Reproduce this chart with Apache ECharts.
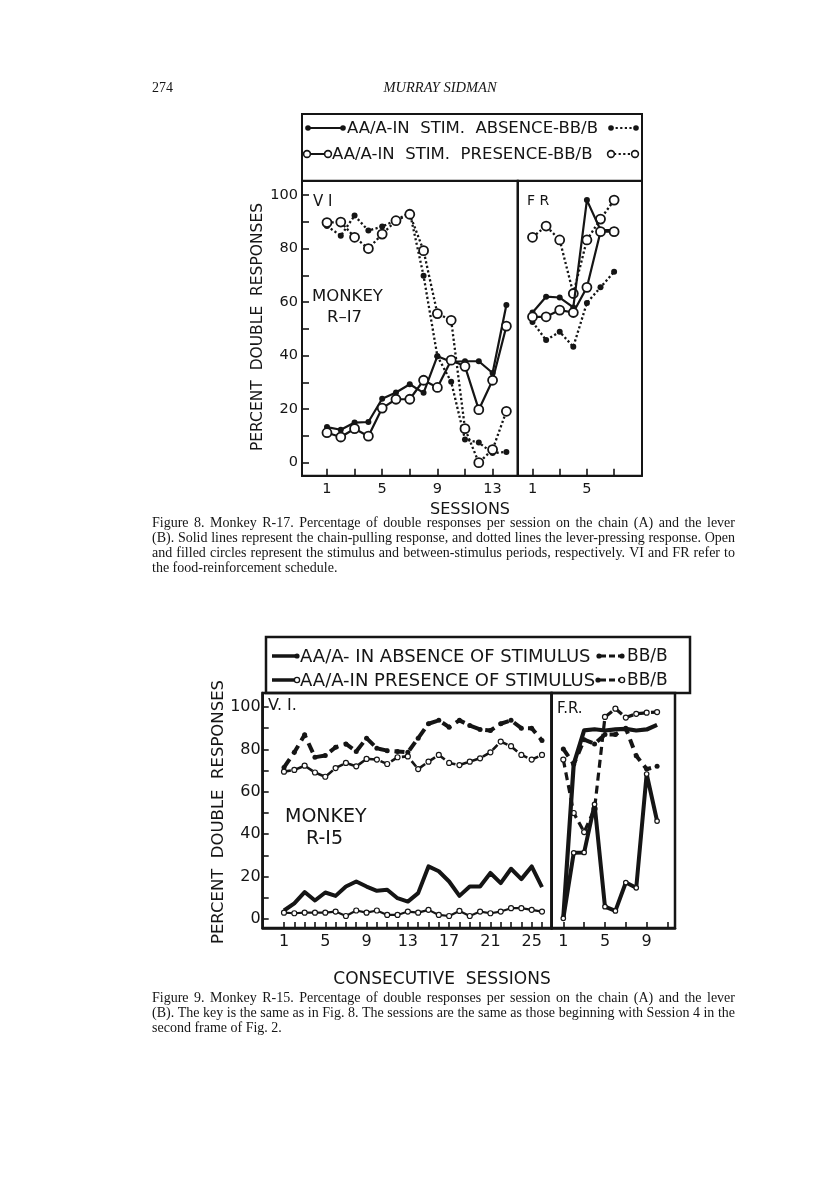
<!DOCTYPE html>
<html><head><meta charset="utf-8">
<script src="https://cdn.jsdelivr.net/npm/echarts@6/dist/echarts.min.js"></script>
<style>html,body{margin:0;padding:0;background:#fff}#c{width:816px;height:1188px}</style>
</head><body><div id="c"></div>
<script>
// ---------- DATA ----------
// Figure 8, Monkey R-17, VI panel (sessions 1-14)
const f8viSessions = [1,2,3,4,5,6,7,8,9,10,11,12,13,14];
const f8viAbsA  = [13.3,12.3,15.0,15.2,23.9,26.2,29.3,26.1,39.8,37.7,37.9,37.9,33.5,58.9]; // solid, filled
const f8viPresA = [11.2,9.6,12.7,9.9,20.4,23.7,23.7,30.8,28.1,38.3,36.0,19.8,30.8,51.0];  // solid, open
const f8viAbsB  = [88.4,84.8,92.3,86.7,88.2,90.6,93.5,69.8,39.8,30.2,8.7,7.5,3.6,4.0];    // dotted, filled
const f8viPresB = [89.7,89.9,84.2,80.0,85.4,90.4,92.8,79.2,55.7,53.2,12.7,0.0,4.9,19.2];  // dotted, open
// Figure 8, FR panel (sessions 1-7)
const f8frSessions = [1,2,3,4,5,6,7];
const f8frAbsA  = [56.1,62.0,61.7,58.0,98.1,86.9,86.9];
const f8frPresA = [54.5,54.5,57.0,56.1,65.5,86.3,86.3];
const f8frAbsB  = [52.6,45.8,48.9,43.3,59.7,65.5,71.3];
const f8frPresB = [84.2,88.4,83.2,63.2,83.2,91.0,98.1];
// Figure 9, Monkey R-15, V.I. panel (sessions 1-26)
const f9viSessions = [1,2,3,4,5,6,7,8,9,10,11,12,13,14,15,16,17,18,19,20,21,22,23,24,25,26];
const f9viAbsA  = [4.0,7.4,12.7,8.7,12.5,10.9,15.3,17.7,15.3,13.3,13.8,9.8,8.2,12.2,24.8,22.5,17.7,10.9,15.3,15.3,21.7,16.9,23.7,18.8,24.8,15.0];
const f9viPresA = [3.0,2.7,3.0,3.0,3.0,3.5,1.4,4.0,3.0,4.0,1.9,1.9,3.5,3.0,4.3,1.9,1.4,3.8,1.4,3.5,2.7,3.5,5.1,5.1,4.3,3.5];
const f9viAbsB  = [71.5,78.6,86.9,76.3,77.1,81.0,82.6,79.0,85.3,80.5,79.4,79.0,78.6,85.3,92.1,93.7,90.5,93.7,91.3,89.4,88.9,92.1,93.7,90.0,90.0,84.2];
const f9viPresB = [69.5,70.3,72.3,69.1,67.1,71.2,73.6,72.0,75.5,75.2,73.1,76.3,76.7,70.7,74.2,77.4,73.6,72.6,74.2,75.8,78.6,83.7,81.5,77.4,75.2,77.4];
// Figure 9, F.R. panel (sessions 1-10)
const f9frSessions = [1,2,3,4,5,6,7,8,9,10];
const f9frAbsA  = [0.5,73.0,89.0,89.5,88.9,89.4,89.7,88.9,89.4,91.6];
const f9frPresA = [0.3,31.2,31.4,54.1,5.8,3.8,17.2,14.7,68.4,46.2];
const f9frAbsB  = [80.2,73.0,84.6,82.6,87.0,87.0,90.0,77.0,70.7,72.0];
const f9frPresB = [75.2,50.0,41.0,52.0,95.3,99.2,95.0,96.8,97.3,97.6];
// Tick / label values
const yTicks = [0,10,20,30,40,50,60,70,80,90,100];
const yLabels = [0,20,40,60,80,100];
const f8viXTicks = [1,3,5,7,9,11,13];
const f8viXLabels = [1,5,9,13];
const f8frXTicks = [1,3,5,7];
const f8frXLabels = [1,5];
const f9viXTicks = [1,2,3,4,5,6,7,8,9,10,11,12,13,14,15,16,17,18,19,20,21,22,23,24,25,26];
const f9viXLabels = [1,5,9,13,17,21,25];
const f9frXTicks = [1,3,5,7,9,11];
const f9frXLabels = [1,5,9];

// ---------- CHART ----------
const INK = '#151515';
const SANS = '"DejaVu Sans", sans-serif';
const SERIF = '"Liberation Serif", serif';

function xAx(g, min, max, ticks, labels, fs, tl, lw) {
  return {type:'value', gridIndex:g, min:min, max:max, position:'bottom',
    axisLine:{show:true, onZero:false, lineStyle:{color:INK, width:lw}},
    axisTick:{show:true, inside:true, length:tl, customValues:ticks, lineStyle:{color:INK, width:1.6}},
    axisLabel:{show:true, customValues:labels, margin:6, fontSize:fs, color:INK, fontFamily:SANS},
    splitLine:{show:false}};
}
function yAx(g, min, max, show, fs, tl, lw, margin) {
  return {type:'value', gridIndex:g, min:min, max:max, position:'left',
    axisLine:{show:true, onZero:false, lineStyle:{color:INK, width:lw}},
    axisTick:{show:show, inside:true, length:tl, customValues:yTicks, lineStyle:{color:INK, width:1.6}},
    axisLabel:{show:show, customValues:yLabels, margin:margin, fontSize:fs, color:INK, fontFamily:SANS},
    splitLine:{show:false}};
}
function ser(ai, xs, ys, o) {
  return {type:'line', xAxisIndex:ai, yAxisIndex:ai,
    data: xs.map((x,i)=>[x, ys[i]]),
    symbol:'circle', symbolSize:o.size, showSymbol:o.size>0,
    lineStyle:{color:INK, width:o.w, type:o.dash||'solid', cap:'butt', join:'round'},
    itemStyle:{color:o.open?'#fff':INK, borderColor:INK, borderWidth:o.open?o.bw:0},
    z:o.z, silent:true, animation:false, emphasis:{disabled:true}};
}

const DOT8 = [2.2,2.4];
const series = [
  // Fig 8 VI
  ser(0, f8viSessions, f8viAbsB,  {w:2.3, dash:DOT8, size:6, z:2}),
  ser(0, f8viSessions, f8viPresB, {w:2.3, dash:DOT8, size:9, open:true, bw:1.8, z:3}),
  ser(0, f8viSessions, f8viAbsA,  {w:2.2, size:6, z:4}),
  ser(0, f8viSessions, f8viPresA, {w:2.2, size:9, open:true, bw:1.8, z:5}),
  // Fig 8 FR
  ser(1, f8frSessions, f8frAbsB,  {w:2.3, dash:DOT8, size:6, z:2}),
  ser(1, f8frSessions, f8frPresB, {w:2.3, dash:DOT8, size:9, open:true, bw:1.8, z:3}),
  ser(1, f8frSessions, f8frAbsA,  {w:2.2, size:6, z:4}),
  ser(1, f8frSessions, f8frPresA, {w:2.2, size:9, open:true, bw:1.8, z:5}),
  // Fig 9 V.I.
  ser(2, f9viSessions, f9viAbsB,  {w:4, dash:[10,6], size:5, z:2}),
  ser(2, f9viSessions, f9viPresB, {w:2.6, dash:[7,5], size:5, open:true, bw:1.2, z:3}),
  ser(2, f9viSessions, f9viAbsA,  {w:4, size:0, z:4}),
  ser(2, f9viSessions, f9viPresA, {w:2.2, size:5, open:true, bw:1.2, z:5}),
  // Fig 9 F.R.
  ser(3, f9frSessions, f9frAbsB,  {w:4, dash:[9,6], size:5, z:2}),
  ser(3, f9frSessions, f9frPresB, {w:3.2, dash:[8,5], size:5, open:true, bw:1.2, z:3}),
  ser(3, f9frSessions, f9frAbsA,  {w:4.2, size:0, z:4}),
  ser(3, f9frSessions, f9frPresA, {w:4, size:4.5, open:true, bw:1.2, z:5})
];

function T(text, x, y, font, align, extra) {
  return Object.assign({type:'text', x:x, y:y, silent:true,
    style:{text:text, font:font, fill:INK, textAlign:align||'left', textVerticalAlign:'middle'}}, extra||{});
}
function L(x1,y1,x2,y2,w,dash) {
  return {type:'line', silent:true, shape:{x1:x1,y1:y1,x2:x2,y2:y2}, style:{stroke:INK, lineWidth:w, lineDash:dash||null}};
}
function C(cx,cy,r,open,bw) {
  return {type:'circle', silent:true, z:10, shape:{cx:cx,cy:cy,r:r}, style:{fill:open?'#fff':INK, stroke:INK, lineWidth:open?(bw||1.6):0}};
}

const cap8 = [
  'Figure 8. Monkey R-17. Percentage of double responses per session on the chain (A) and the lever',
  '(B). Solid lines represent the chain-pulling response, and dotted lines the lever-pressing response. Open',
  'and filled circles represent the stimulus and between-stimulus periods, respectively. VI and FR refer to',
  'the food-reinforcement schedule.'
];
const cap9 = [
  'Figure 9. Monkey R-15. Percentage of double responses per session on the chain (A) and the lever',
  '(B). The key is the same as in Fig. 8. The sessions are the same as those beginning with Session 4 in the',
  'second frame of Fig. 2.'
];

const graphic = [
  // header
  T('274', 152, 88, '14px ' + SERIF),
  T('MURRAY SIDMAN', 440, 88, 'italic 14.5px ' + SERIF, 'center'),
  // Fig 8 legend
  {type:'rect', silent:true, shape:{x:302, y:114, width:340, height:67}, style:{fill:'none', stroke:INK, lineWidth:2}},
  L(308,128,343,128,2.2), C(308,128,2.8,false), C(343,128,2.8,false),
  T('AA/A-IN  STIM.  ABSENCE-BB/B', 347, 129, '16.5px ' + SANS),
  L(611,128,636,128,2.2,[2.2,2.4]), C(611,128,2.8,false), C(636,128,2.8,false),
  C(307,154,3.4,true), L(310,154,325,154,2), C(328,154,3.4,true),
  T('AA/A-IN  STIM.  PRESENCE-BB/B', 332, 155, '16.5px ' + SANS),
  L(614,154,632,154,2.2,[2.2,2.4]), C(611,154,3.4,true), C(635,154,3.4,true),
  // Fig 8 in-panel labels
  T('V I', 313, 202, '15px ' + SANS),
  T('F R', 527, 201, '14px ' + SANS),
  T('MONKEY', 312, 297, '16.5px ' + SANS),
  T('R\u2013I7', 327, 318, '16.5px ' + SANS),
  T('PERCENT  DOUBLE  RESPONSES', 258, 327, '15.5px ' + SANS, 'center', {rotation:Math.PI/2}),
  T('SESSIONS', 470, 510, '16px ' + SANS, 'center'),
  // Fig 9 legend
  {type:'rect', silent:true, shape:{x:266, y:637, width:424, height:56}, style:{fill:'none', stroke:INK, lineWidth:2.5}},
  L(272,656,296,656,3.5), C(297,656,2.6,false),
  T('AA/A- IN ABSENCE OF STIMULUS', 300, 657, '18px ' + SANS),
  L(600,656,620,656,3.2,[6,3]), C(599,656,2.6,false), C(622,656,2.6,false),
  T('BB/B', 627, 657, '17px ' + SANS),
  L(272,680,295,680,3.5), C(297,680,2.6,true,1.3),
  T('AA/A-IN PRESENCE OF STIMULUS', 300, 681, '18px ' + SANS),
  L(600,680,620,680,3.2,[6,3]), C(598,680,2.6,false), C(622,680,2.6,true,1.3),
  T('BB/B', 627, 681, '17px ' + SANS),
  // Fig 9 in-panel labels
  T('V. I.', 268, 706, '16px ' + SANS),
  T('F.R.', 557, 709, '15px ' + SANS),
  T('MONKEY', 285, 817, '19px ' + SANS),
  T('R-I5', 306, 839, '19px ' + SANS),
  T('PERCENT  DOUBLE  RESPONSES', 219, 812, '16.5px ' + SANS, 'center', {rotation:Math.PI/2}),
  T('CONSECUTIVE  SESSIONS', 442, 980, '17px ' + SANS, 'center')
];

// justified caption lines (word placement measured with canvas)
const CAP_FONT = '14px ' + SERIF;
const CAP_LEFT = 152, CAP_WIDTH = 583;
const mctx = document.createElement('canvas').getContext('2d');
mctx.font = CAP_FONT;
function addCaption(lines, y0) {
  lines.forEach((s, i) => {
    const y = y0 + i * 15;
    if (i === lines.length - 1) { graphic.push(T(s, CAP_LEFT, y, CAP_FONT)); return; }
    const words = s.split(' ');
    const ws = words.map(w => mctx.measureText(w).width);
    const total = ws.reduce((a, b) => a + b, 0);
    const gap = Math.max(2.5, (CAP_WIDTH - total) / (words.length - 1));
    let x = CAP_LEFT;
    words.forEach((w, k) => { graphic.push(T(w, x, y, CAP_FONT)); x += ws[k] + gap; });
  });
}
addCaption(cap8, 523);
addCaption(cap9, 998);

const option = {
  animation:false,
  backgroundColor:'#ffffff',
  grid:[
    {left:302, top:180.7, width:215.7, height:295, show:true, borderColor:INK, borderWidth:2, backgroundColor:'transparent'},
    {left:517.7, top:180.7, width:124.3, height:295, show:true, borderColor:INK, borderWidth:2, backgroundColor:'transparent'},
    {left:262.7, top:693, width:289, height:235, show:true, borderColor:INK, borderWidth:2.5, backgroundColor:'transparent'},
    {left:551.7, top:693, width:123.3, height:235, show:true, borderColor:INK, borderWidth:2.5, backgroundColor:'transparent'}
  ],
  xAxis:[
    xAx(0, -0.81, 14.82, f8viXTicks, f8viXLabels, 14.5, 7, 2),
    xAx(1, -0.088, 9.05, f8frXTicks, f8frXLabels, 14.5, 7, 2),
    xAx(2, -1.064, 26.94, f9viXTicks, f9viXLabels, 16, 6, 2.5),
    xAx(3, -0.113, 11.72, f9frXTicks, f9frXLabels, 16, 6, 2.5)
  ],
  yAxis:[
    yAx(0, -4.86, 105.34, true, 14.5, 7, 2, 4),
    yAx(1, -4.86, 105.34, false, 14.5, 7, 2, 4),
    yAx(2, -4.25, 106.6, true, 16, 6, 2.5, 2),
    yAx(3, -4.25, 106.6, false, 16, 6, 2.5, 2)
  ],
  series: series,
  graphic: graphic
};
const chart = echarts.init(document.getElementById('c'), null, {renderer:'canvas'});
chart.setOption(option);
</script>
</body></html>
